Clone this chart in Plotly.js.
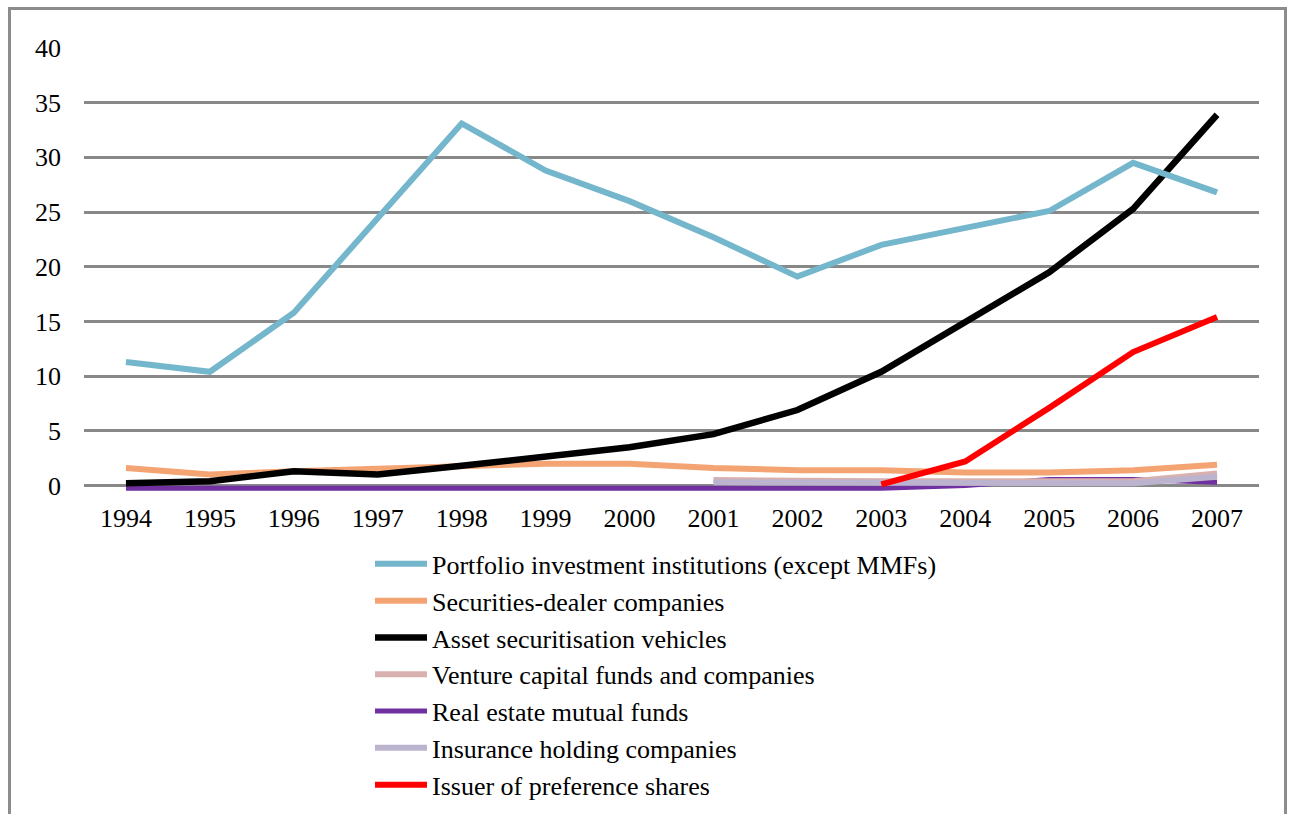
<!DOCTYPE html>
<html>
<head>
<meta charset="utf-8">
<script src="https://cdn.plot.ly/plotly-3.0.1.min.js"></script>
<style>
html,body{margin:0;padding:0;background:#fff;}
#chart{width:1293px;height:814px;}
</style>
</head>
<body>
<div id="chart"></div>
<script>
const years = ['1994','1995','1996','1997','1998','1999','2000','2001','2002','2003','2004','2005','2006','2007'];

const portfolio = [11.3, 10.4, 15.8, 24.5, 33.1, 28.8, 26.0, 22.7, 19.1, 22.0, 23.6, 25.1, 29.5, 26.8];
const securitiesDealer = [1.6, 1.0, 1.3, 1.5, 1.8, 2.0, 2.0, 1.6, 1.4, 1.4, 1.2, 1.2, 1.4, 1.9];
const assetSecuritisation = [0.2, 0.4, 1.3, 1.0, 1.8, 2.7, 3.5, 4.7, 6.9, 10.4, 14.9, 19.5, 25.3, 33.9];
const ventureCapital = [null, null, null, null, null, null, null, 0.5, 0.4, 0.4, 0.4, 0.4, 0.4, 1.1];
const realEstate = [-0.25, -0.25, -0.25, -0.25, -0.25, -0.25, -0.25, -0.25, -0.25, -0.25, 0.0, 0.55, 0.55, 0.3];
const insuranceHolding = [null, null, null, null, null, null, null, 0.3, 0.3, 0.3, 0.3, 0.3, 0.2, 0.8];
const preferenceShares = [null, null, null, null, null, null, null, null, null, 0.1, 2.2, 7.1, 12.2, 15.4];

const names = [
  'Portfolio investment institutions (except MMFs)',
  'Securities-dealer companies',
  'Asset securitisation vehicles',
  'Venture capital funds and companies',
  'Real estate mutual funds',
  'Insurance holding companies',
  'Issuer of preference shares'
];
const colors = ['#74b6cc', '#f4a472', '#000000', '#d8b0b0', '#7030a0', '#bcb4cf', '#ff0000'];
const widths = [6, 6, 6.5, 6, 5, 6, 6];
const series = [portfolio, securitiesDealer, assetSecuritisation, ventureCapital, realEstate, insuranceHolding, preferenceShares];

const drawOrder = [4, 3, 5, 1, 2, 6, 0];
const traces = drawOrder.map(i => ({
  type: 'scatter',
  mode: 'lines',
  x: years,
  y: series[i],
  name: names[i],
  legendrank: i + 1,
  line: {color: colors[i], width: widths[i], shape: 'linear'},
  connectgaps: false,
  hoverinfo: 'x+y+name'
}));

const plotL = 84, plotR = 1259, plotT = 48, plotB = 491.5;
const W = 1293, H = 814;
const pw = plotR - plotL, ph = plotB - plotT;
const px = v => (v - plotL) / pw;
const py = v => (plotB - v) / ph;
const serif = 'Liberation Serif, Times New Roman, serif';

const layout = {
  width: W,
  height: H,
  margin: {l: plotL, r: W - plotR, t: plotT, b: H - plotB, pad: 0, autoexpand: false},
  paper_bgcolor: '#ffffff',
  plot_bgcolor: '#ffffff',
  font: {family: serif, size: 26, color: '#000'},
  showlegend: true,
  legend: {
    x: px(370), y: py(541), xanchor: 'left', yanchor: 'top',
    orientation: 'v',
    font: {family: serif, size: 26, color: '#000'},
    bgcolor: 'rgba(0,0,0,0)',
    itemwidth: 52,
    traceorder: 'normal',
    tracegroupgap: 0
  },
  xaxis: {
    type: 'category',
    range: [-0.5, 13.5],
    showgrid: false,
    zeroline: false,
    showline: false,
    ticks: '',
    ticklabelstandoff: 9,
    tickfont: {family: serif, size: 26},
    fixedrange: true
  },
  yaxis: {
    range: [-0.5, 40],
    tickvals: [0, 5, 10, 15, 20, 25, 30, 35, 40],
    ticktext: ['0', '5', '10', '15', '20', '25', '30', '35', '40'],
    showgrid: true,
    gridcolor: '#888888',
    gridwidth: 3,
    zeroline: false,
    showline: false,
    ticks: '',
    ticklabelstandoff: 22,
    tickfont: {family: serif, size: 26},
    fixedrange: true
  },
  shapes: [{
    type: 'rect', xref: 'paper', yref: 'paper',
    x0: px(9.5), x1: px(1285.5), y0: py(830), y1: py(8.5),
    line: {color: '#8c8c8c', width: 3},
    fillcolor: 'rgba(0,0,0,0)',
    layer: 'below'
  }]
};

Plotly.newPlot('chart', traces, layout, {displayModeBar: false, staticPlot: true});
</script>
</body>
</html>
